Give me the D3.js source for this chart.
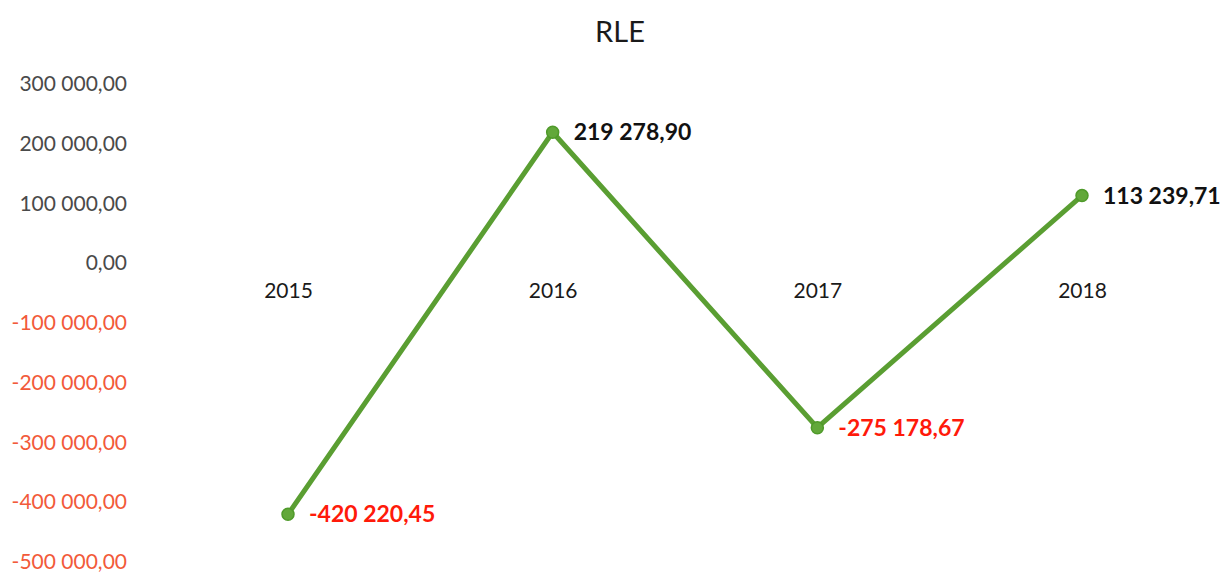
<!DOCTYPE html>
<html>
<head>
<meta charset="utf-8">
<script src="https://cdn.jsdelivr.net/npm/d3@7"></script>
<style>
  html, body { margin: 0; padding: 0; background: #fff; }
  svg { display: block; }
</style>
</head>
<body>
<svg id="chart" width="1227" height="572"></svg>
<script>
// RLE by year
const years = ["2015", "2016", "2017", "2018"];
const rleValues = [-420220.45, 219278.90, -275178.67, 113239.71];
const yTicks = [300000, 200000, 100000, 0, -100000, -200000, -300000, -400000, -500000];
const chartTitle = "RLE";

const W = 1227, H = 572;
const svg = d3.select("#chart");

// Polish-style number formatting: space thousands, comma decimals
const locale = d3.formatLocale({ decimal: ",", thousands: " ", grouping: [3], currency: ["", ""] });
const fmt = locale.format(",.2f");
const fmtNum = v => (v < 0 ? "-" : "") + fmt(Math.abs(v));

const font = "Lato, 'Open Sans', sans-serif";

const x = d3.scalePoint().domain(years).range([288, 1082]);
const y = d3.scaleLinear().domain([-500000, 300000]).range([562, 84]);

// Title
svg.append("text")
  .attr("x", 620).attr("y", 42)
  .attr("text-anchor", "middle")
  .attr("font-family", font)
  .attr("font-size", 29)
  .attr("fill", "#1a1a1a")
  .text(chartTitle);

// Value axis (labels only)
const yAxis = d3.axisLeft(y).tickValues(yTicks).tickSize(0).tickPadding(0).tickFormat(fmtNum);
const yg = svg.append("g").attr("transform", "translate(127,0)").call(yAxis);
yg.select(".domain").remove();
yg.selectAll("text")
  .attr("font-family", font)
  .attr("font-size", 21)
  .attr("fill", d => d < 0 ? "#f25a3a" : "#4a4a4a");

// Category axis (labels only), sitting just below the zero line
const xAxis = d3.axisBottom(x).tickSize(0).tickPadding(0);
const xg = svg.append("g").attr("transform", `translate(0,${y(0) + 20})`).call(xAxis);
xg.select(".domain").remove();
xg.selectAll("text")
  .attr("font-family", font)
  .attr("font-size", 21)
  .attr("fill", "#1a1a1a");

const pts = years.map((yr, i) => ({ yr, v: rleValues[i] }));

// Line
const line = d3.line().x(d => x(d.yr)).y(d => y(d.v));
svg.append("path")
  .datum(pts)
  .attr("d", line)
  .attr("fill", "none")
  .attr("stroke", "#5a9e32")
  .attr("stroke-width", 5)
  .attr("stroke-linejoin", "round");

// Markers
svg.selectAll("circle.pt").data(pts).enter().append("circle")
  .attr("class", "pt")
  .attr("cx", d => x(d.yr))
  .attr("cy", d => y(d.v))
  .attr("r", 6)
  .attr("fill", "#62a83a")
  .attr("stroke", "#4f9a2a")
  .attr("stroke-width", 1.5);

// Data labels
svg.selectAll("text.val").data(pts).enter().append("text")
  .attr("class", "val")
  .attr("x", d => x(d.yr) + 21)
  .attr("y", d => y(d.v))
  .attr("dy", "0.35em")
  .attr("font-family", font)
  .attr("font-weight", "bold")
  .attr("font-size", 23)
  .attr("fill", d => d.v < 0 ? "#ff1a0a" : "#111")
  .text(d => fmtNum(d.v));
</script>
</body>
</html>
